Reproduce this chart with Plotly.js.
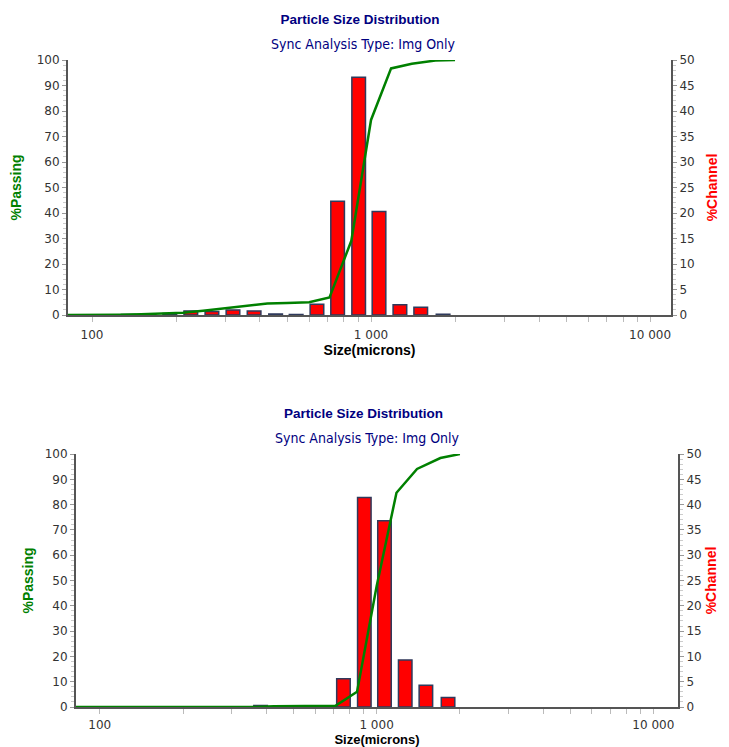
<!DOCTYPE html>
<html>
<head>
<meta charset="utf-8">
<script src="https://cdn.plot.ly/plotly-3.0.1.min.js"></script>
<style>html,body{margin:0;padding:0;background:#fff;}#chart{width:729px;height:747px;}</style>
</head>
<body>
<div id="chart"></div>
<script>
// ---- Data ----
const chartTitle = "Particle Size Distribution";
const chartSubtitle = "Sync Analysis Type: Img Only";
const xTitle = "Size(microns)";
const passTitle = "%Passing";
const chanTitle = "%Channel";

// sieve sizes (microns) for cumulative % passing
const sieveSizes = [75, 90, 106, 125, 150, 180, 212, 250, 300, 355, 425, 500, 600, 710, 850, 1000, 1180, 1400, 1700, 2000];
// channel (bin) centre sizes for % channel bars
const channelSizes = [135, 160, 190, 226, 269, 320, 381, 455, 539, 640, 759, 903, 1068, 1269, 1507, 1812];

// Top chart
const topPassing = [0, 0, 0, 0.1, 0.3, 0.6, 0.9, 1.7, 2.6, 3.6, 4.5, 4.7, 5.0, 6.9, 29.1, 76.5, 96.7, 98.5, 99.8, 100];
const topChannel = [0.1, 0.2, 0.3, 0.8, 0.7, 1.0, 0.8, 0.2, 0.1, 2.1, 22.3, 46.6, 20.3, 2.0, 1.5, 0.15];

// Bottom chart
const botPassing = [0, 0, 0, 0, 0, 0, 0, 0, 0, 0, 0.3, 0.35, 0.4, 0.45, 6.0, 47.6, 84.7, 94.1, 98.4, 100];
const botChannel = [0, 0, 0, 0, 0, 0, 0.3, 0.05, 0.05, 0.05, 5.6, 41.4, 36.8, 9.3, 4.3, 1.9];

// x tick labels
const xTickVals = [100, 200, 300, 400, 500, 600, 700, 800, 900, 1000, 2000, 3000, 4000, 5000, 6000, 7000, 8000, 9000, 10000];
const xTickText = ["100", "", "", "", "", "", "", "", "", "1 000", "", "", "", "", "", "", "", "", "10 000"];

// ---- Styles ----
const navy = "#000080";
const green = "#008000";
const red = "#ff0000";
const axisLine = "#555555";
const tickFont = {family: "DejaVu Sans, Verdana, sans-serif", size: 12, color: "#333333"};
const titleFontFamily = "Liberation Sans Narrow, Arial Narrow, Liberation Sans, sans-serif";
const subFont = {family: "DejaVu Sans Condensed, DejaVu Sans, sans-serif", size: 14, color: navy};

const W = 729, H = 747;
function px(x) { return x / W; }
function py(y) { return 1 - y / H; }

// Bars are positioned on a hidden linear axis measured in decades (log10 of size),
// so that their widths are uniform on the visible logarithmic size axis.
const logOf = arr => arr.map(v => Math.log10(v));

function hiddenX(domain, range, anchor) {
  return {type: "linear", domain: domain, range: range, anchor: anchor, visible: false, fixedrange: true};
}
function logX(overlay, range, anchor, labelStandoff, titleStandoff, titleSize) {
  return {
    type: "log", overlaying: overlay, range: range, anchor: anchor,
    showline: true, linecolor: axisLine, linewidth: 2,
    showgrid: false, zeroline: false,
    tickmode: "array", tickvals: xTickVals, ticktext: xTickText,
    ticks: "outside", ticklen: 5, tickcolor: "#bbbbbb", tickwidth: 1,
    ticklabelstandoff: labelStandoff,
    tickfont: tickFont,
    title: {text: xTitle, font: {family: titleFontFamily, size: titleSize, color: "#000", weight: "bold"}, standoff: titleStandoff}
  };
}
function chanAxis(domain, anchor, standoff) {
  return {
    domain: domain, anchor: anchor, side: "right", range: [0, 50],
    showline: true, linecolor: axisLine, linewidth: 2,
    showgrid: false, zeroline: false,
    dtick: 5, ticks: "outside", ticklen: 4, tickcolor: "#999", tickfont: tickFont,
    minor: {dtick: 1, ticks: "outside", ticklen: 3, tickcolor: "#cccccc", showgrid: false},
    title: {text: chanTitle, font: {family: titleFontFamily, size: 14, color: red, weight: "bold"}, standoff: standoff}
  };
}
function passAxis(overlay, anchor, standoff) {
  return {
    overlaying: overlay, anchor: anchor, side: "left", range: [0, 100],
    showline: true, linecolor: axisLine, linewidth: 2,
    showgrid: false, zeroline: false,
    dtick: 10, ticks: "outside", ticklen: 4, tickcolor: "#999", tickfont: tickFont,
    minor: {dtick: 2, ticks: "outside", ticklen: 3, tickcolor: "#cccccc", showgrid: false},
    title: {text: passTitle, font: {family: titleFontFamily, size: 14, color: green, weight: "bold"}, standoff: standoff}
  };
}

const barStyle = {color: red, line: {color: "#2f3a5c", width: 1.5}};
const lineStyle = {color: green, width: 2.5};

const traces = [
  {type: "bar", x: logOf(channelSizes), y: topChannel, xaxis: "x", yaxis: "y", marker: barStyle, name: chanTitle},
  {type: "scatter", mode: "lines", x: sieveSizes, y: topPassing, xaxis: "x3", yaxis: "y2", line: lineStyle, name: passTitle},
  {type: "bar", x: logOf(channelSizes), y: botChannel, xaxis: "x2", yaxis: "y3", marker: barStyle, name: chanTitle},
  {type: "scatter", mode: "lines", x: sieveSizes, y: botPassing, xaxis: "x4", yaxis: "y4", line: lineStyle, name: passTitle}
];

const topRange = [1.914, 4.075];
const botRange = [1.914, 4.089];

const layout = {
  width: W, height: H,
  margin: {l: 0, r: 0, t: 0, b: 0},
  paper_bgcolor: "#fff", plot_bgcolor: "rgba(0,0,0,0)",
  showlegend: false, bargap: 0.33,
  title: {text: chartTitle, x: px(360), xanchor: "center", y: py(19), yanchor: "middle",
          font: {family: titleFontFamily, size: 13.5, color: navy, weight: "bold"}},
  xaxis: hiddenX([px(68), px(671)], topRange, "y"),
  xaxis3: logX("x", topRange, "y", 3, 4, 14),
  yaxis: chanAxis([py(315), py(60)], "x"),
  yaxis2: passAxis("y", "x", 12),
  xaxis2: hiddenX([px(76), px(678)], botRange, "y3"),
  xaxis4: logX("x2", botRange, "y3", 1, 3, 13),
  yaxis3: chanAxis([py(707), py(454)], "x2", 6),
  yaxis4: passAxis("y3", "x2", 8),
  annotations: [
    {text: chartSubtitle, xref: "paper", yref: "paper", x: px(363), y: py(44), xanchor: "center", yanchor: "middle", showarrow: false, font: subFont},
    {text: chartTitle, xref: "paper", yref: "paper", x: px(363), y: py(413), xanchor: "center", yanchor: "middle", showarrow: false,
     font: {family: titleFontFamily, size: 13.5, color: navy, weight: "bold"}},
    {text: chartSubtitle, xref: "paper", yref: "paper", x: px(367), y: py(438), xanchor: "center", yanchor: "middle", showarrow: false, font: subFont}
  ]
};

Plotly.newPlot("chart", traces, layout, {staticPlot: true, displayModeBar: false});
</script>
</body>
</html>
